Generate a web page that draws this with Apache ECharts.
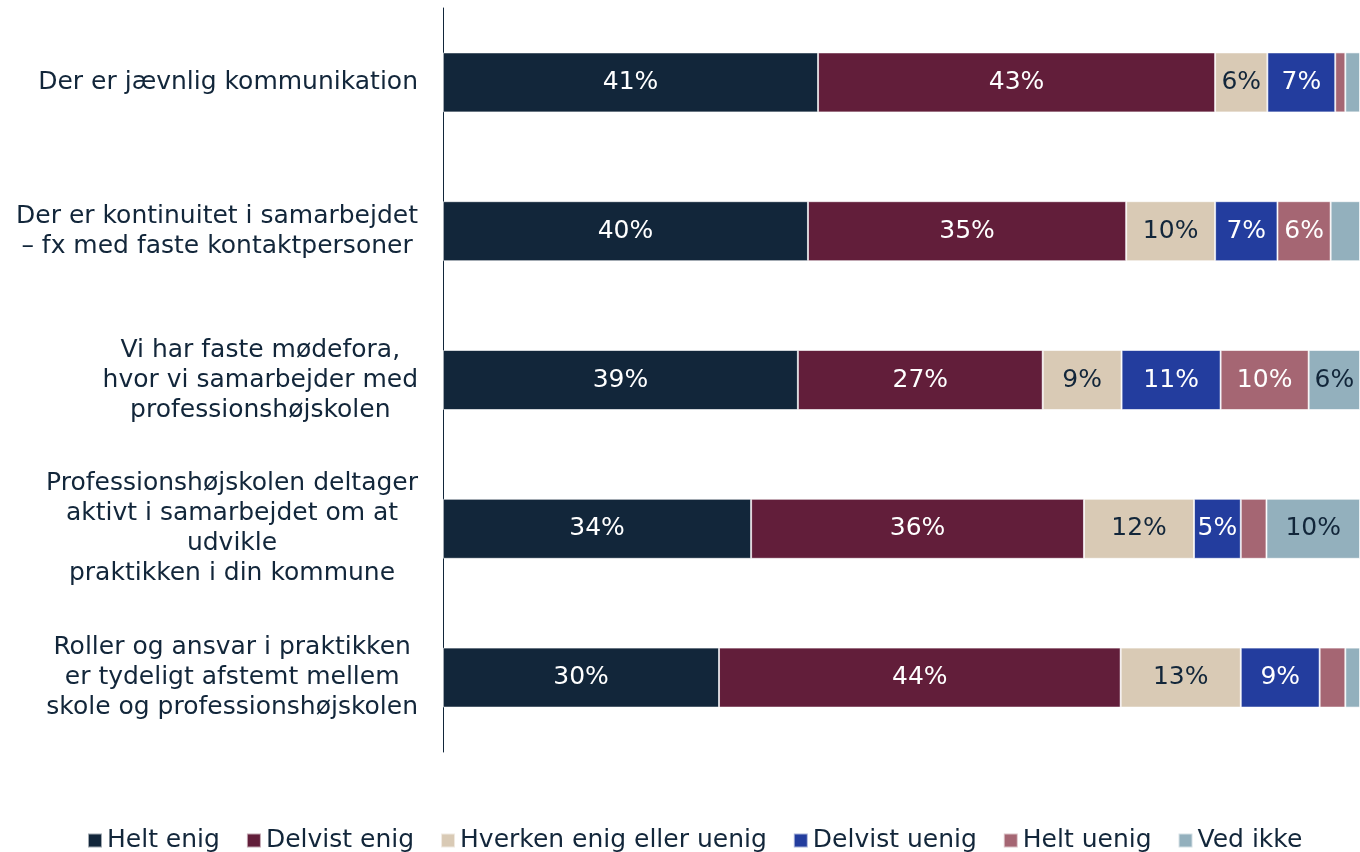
<!DOCTYPE html>
<html>
<head>
<meta charset="utf-8">
<script src="https://cdn.jsdelivr.net/npm/echarts@6/dist/echarts.min.js"></script>
<style>
  html, body { margin: 0; padding: 0; background: #fff; }
  #chart { width: 1360px; height: 852px; }
</style>
</head>
<body>
<div id="chart"></div>
<script>
const categories = [
  'Der er jævnlig kommunikation',
  'Der er kontinuitet i samarbejdet\n– fx med faste kontaktpersoner',
  'Vi har faste mødefora,\nhvor vi samarbejder med\nprofessionshøjskolen',
  'Professionshøjskolen deltager\naktivt i samarbejdet om at\nudvikle\npraktikken i din kommune',
  'Roller og ansvar i praktikken\ner tydeligt afstemt mellem\nskole og professionshøjskolen'
];

const seriesNames = ['Helt enig', 'Delvist enig', 'Hverken enig eller uenig', 'Delvist uenig', 'Helt uenig', 'Ved ikke'];
const seriesColors = ['#12263A', '#621E3A', '#D9CAB5', '#233D9E', '#A56673', '#93B0BD'];
const labelColors = ['#FFFFFF', '#FFFFFF', '#12263A', '#FFFFFF', '#FFFFFF', '#12263A'];

const heltEnig = [40.9, 39.8, 38.7, 33.6, 30.1];
const delvistEnig = [43.3, 34.7, 26.7, 36.3, 43.8];
const hverken = [5.7, 9.7, 8.6, 12.0, 13.1];
const delvistUenig = [7.4, 6.8, 10.8, 5.1, 8.6];
const heltUenig = [1.1, 5.8, 9.6, 2.8, 2.8];
const vedIkke = [1.6, 3.2, 5.6, 10.2, 1.6];

const seriesValues = [heltEnig, delvistEnig, hverken, delvistUenig, heltUenig, vedIkke];

const font = "'DejaVu Sans', sans-serif";

const chart = echarts.init(document.getElementById('chart'));

chart.setOption({
  animation: false,
  grid: {
    top: 8,
    bottom: 100,
    left: 443,
    right: 0,
    containLabel: false
  },
  legend: {
    top: 823,
    left: 82,
    itemWidth: 14,
    itemHeight: 14,
    itemGap: 26,
    icon: 'rect',
    textStyle: {
      fontFamily: font,
      fontSize: 25,
      color: '#12263A'
    },
    data: seriesNames
  },
  xAxis: {
    type: 'value',
    min: 0,
    max: 100,
    show: false
  },
  yAxis: {
    type: 'category',
    inverse: true,
    data: categories,
    axisLine: { show: true, lineStyle: { color: '#12263A', width: 1 } },
    axisTick: { show: false },
    axisLabel: {
      margin: 25,
      formatter: function (v) {
        return v.split('\n').map(function (l) { return '{c|' + l + '}'; }).join('\n');
      },
      rich: {
        c: {
          align: 'center',
          fontFamily: font,
          fontSize: 25,
          lineHeight: 30,
          color: '#12263A'
        }
      }
    }
  },
  series: seriesNames.map(function (name, i) {
    return {
      name: name,
      type: 'bar',
      stack: 'total',
      barWidth: 60,
      data: seriesValues[i],
      itemStyle: {
        color: seriesColors[i],
        borderColor: 'rgba(255,255,255,0.6)',
        borderWidth: 1
      },
      label: {
        show: true,
        position: 'inside',
        fontFamily: font,
        fontSize: 25,
        color: labelColors[i],
        formatter: function (p) {
          return p.value >= 4 ? Math.round(p.value) + '%' : '';
        }
      }
    };
  })
});
</script>
</body>
</html>
